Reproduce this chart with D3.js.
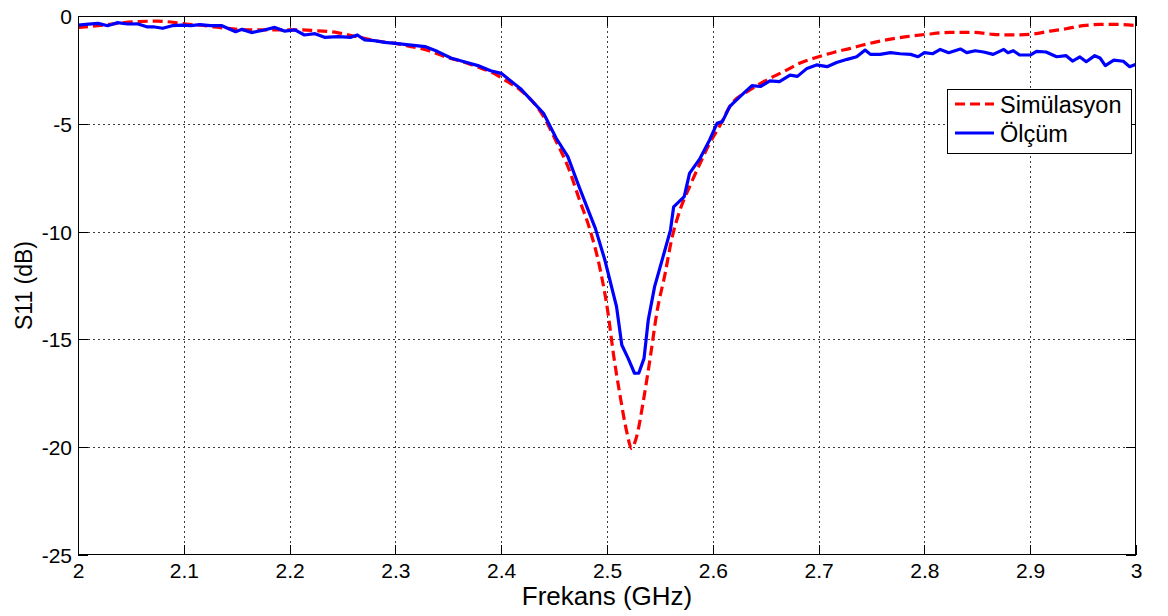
<!DOCTYPE html>
<html>
<head>
<meta charset="utf-8">
<script src="https://cdn.jsdelivr.net/npm/d3@7"></script>
<style>
  html, body { margin: 0; padding: 0; background: #fff; }
  svg { display: block; font-family: "Liberation Sans", Arial, sans-serif; }
</style>
</head>
<body>
<svg id="chart" width="1168" height="616"></svg>
<script>
// Simulated S11 (dB) vs frequency (GHz)
const simFreq = [2.000, 2.019, 2.037, 2.055, 2.075, 2.097, 2.102, 2.120, 2.140, 2.162, 2.187, 2.206, 2.225, 2.245, 2.266, 2.282, 2.300, 2.315, 2.331, 2.347, 2.362, 2.378, 2.394, 2.406, 2.418, 2.440, 2.452, 2.463, 2.474, 2.484, 2.493, 2.501, 2.506, 2.512, 2.519, 2.523, 2.528, 2.534, 2.541, 2.547, 2.555, 2.561, 2.569, 2.578, 2.588, 2.597, 2.607, 2.616, 2.635, 2.651, 2.667, 2.682, 2.700, 2.714, 2.730, 2.745, 2.764, 2.783, 2.802, 2.824, 2.846, 2.865, 2.884, 2.900, 2.919, 2.934, 2.950, 2.966, 2.982, 3.000];
const simS11 = [-0.53, -0.45, -0.34, -0.26, -0.24, -0.34, -0.37, -0.45, -0.57, -0.64, -0.64, -0.64, -0.68, -0.77, -0.99, -1.16, -1.27, -1.42, -1.60, -1.89, -2.10, -2.37, -2.68, -3.05, -3.43, -4.66, -5.82, -6.98, -8.53, -9.93, -11.63, -13.79, -15.65, -17.50, -19.36, -20.05, -19.51, -17.96, -15.80, -13.79, -11.93, -10.39, -9.00, -7.92, -6.83, -5.90, -5.06, -4.20, -3.43, -2.97, -2.58, -2.19, -1.89, -1.69, -1.50, -1.31, -1.11, -0.96, -0.85, -0.76, -0.76, -0.85, -0.88, -0.85, -0.70, -0.59, -0.45, -0.39, -0.39, -0.45];

// Measured S11 (dB) vs frequency (GHz)
const measFreq = [2.000, 2.010, 2.019, 2.028, 2.037, 2.047, 2.056, 2.065, 2.071, 2.080, 2.089, 2.098, 2.107, 2.115, 2.125, 2.136, 2.149, 2.155, 2.164, 2.175, 2.186, 2.195, 2.205, 2.214, 2.224, 2.233, 2.246, 2.258, 2.264, 2.271, 2.280, 2.290, 2.300, 2.315, 2.328, 2.340, 2.353, 2.365, 2.378, 2.390, 2.400, 2.418, 2.440, 2.452, 2.463, 2.473, 2.481, 2.489, 2.498, 2.509, 2.514, 2.520, 2.526, 2.530, 2.535, 2.539, 2.545, 2.553, 2.560, 2.563, 2.573, 2.578, 2.588, 2.597, 2.604, 2.609, 2.616, 2.619, 2.629, 2.637, 2.645, 2.654, 2.663, 2.673, 2.680, 2.689, 2.698, 2.708, 2.717, 2.727, 2.736, 2.744, 2.749, 2.758, 2.768, 2.777, 2.787, 2.794, 2.800, 2.808, 2.815, 2.823, 2.834, 2.840, 2.848, 2.856, 2.865, 2.875, 2.879, 2.884, 2.890, 2.900, 2.906, 2.915, 2.925, 2.934, 2.940, 2.947, 2.953, 2.961, 2.966, 2.971, 2.979, 2.988, 2.994, 3.000];
const measS11 = [-0.42, -0.38, -0.34, -0.45, -0.31, -0.37, -0.36, -0.50, -0.50, -0.57, -0.45, -0.42, -0.45, -0.40, -0.45, -0.45, -0.73, -0.62, -0.77, -0.66, -0.53, -0.70, -0.64, -0.88, -0.82, -0.99, -0.96, -0.99, -0.88, -1.11, -1.14, -1.22, -1.27, -1.35, -1.42, -1.65, -1.96, -2.12, -2.30, -2.54, -2.66, -3.36, -4.51, -5.67, -6.52, -7.84, -8.85, -9.85, -11.32, -13.48, -15.26, -15.88, -16.57, -16.57, -15.88, -14.10, -12.55, -11.16, -9.93, -8.85, -8.38, -7.30, -6.60, -5.75, -4.98, -4.90, -4.20, -4.05, -3.59, -3.23, -3.27, -3.01, -3.04, -2.74, -2.80, -2.43, -2.27, -2.35, -2.16, -2.01, -1.89, -1.58, -1.78, -1.78, -1.70, -1.75, -1.78, -1.89, -1.70, -1.75, -1.55, -1.70, -1.53, -1.70, -1.61, -1.67, -1.78, -1.55, -1.70, -1.61, -1.81, -1.81, -1.64, -1.67, -1.89, -1.84, -2.09, -1.90, -2.12, -1.84, -1.95, -2.30, -2.05, -2.10, -2.35, -2.24];

const xTicks = [2, 2.1, 2.2, 2.3, 2.4, 2.5, 2.6, 2.7, 2.8, 2.9, 3];
const yTicks = [0, -5, -10, -15, -20, -25];
const seriesNames = ["Simülasyon", "Ölçüm"];
const seriesColors = ["#ff0000", "#0000ff"];
const xTitle = "Frekans (GHz)";
const yTitle = "S11 (dB)";

const svg = d3.select("#chart");
const plot = { left: 78, right: 1136, top: 16, bottom: 555 };

const x = d3.scaleLinear().domain([2, 3]).range([plot.left, plot.right]);
const y = d3.scaleLinear().domain([-25, 0]).range([plot.bottom, plot.top]);

// dotted grid
const grid = svg.append("g").attr("stroke", "#3c3c3c").attr("stroke-width", 1)
  .attr("stroke-dasharray", "2,3").attr("shape-rendering", "crispEdges");
xTicks.slice(1, -1).forEach(t => {
  grid.append("line").attr("x1", Math.round(x(t)) + 0.5).attr("x2", Math.round(x(t)) + 0.5)
    .attr("y1", plot.top).attr("y2", plot.bottom);
});
yTicks.slice(1, -1).forEach(t => {
  grid.append("line").attr("y1", Math.round(y(t)) + 0.5).attr("y2", Math.round(y(t)) + 0.5)
    .attr("x1", plot.left).attr("x2", plot.right);
});

// axes with inward ticks on all four sides
const tickLen = 10;
const fmt = d => String(d);
const axB = svg.append("g").attr("transform", `translate(0,${plot.bottom})`)
  .call(d3.axisBottom(x).tickValues(xTicks).tickFormat(fmt).tickSizeInner(-tickLen).tickSizeOuter(0).tickPadding(8));
const axT = svg.append("g").attr("transform", `translate(0,${plot.top})`)
  .call(d3.axisTop(x).tickValues(xTicks).tickFormat("").tickSizeInner(-tickLen).tickSizeOuter(0));
const axL = svg.append("g").attr("transform", `translate(${plot.left},0)`)
  .call(d3.axisLeft(y).tickValues(yTicks).tickFormat(fmt).tickSizeInner(-tickLen).tickSizeOuter(0).tickPadding(6));
const axR = svg.append("g").attr("transform", `translate(${plot.right},0)`)
  .call(d3.axisRight(y).tickValues(yTicks).tickFormat("").tickSizeInner(-tickLen).tickSizeOuter(0));

[axB, axT, axL, axR].forEach(a => {
  a.select(".domain").remove();
  a.selectAll("line").attr("stroke", "#000").attr("shape-rendering", "crispEdges");
  a.selectAll("text").attr("fill", "#000").style("font-size", "21px")
    .style("font-family", "'Liberation Sans', Arial, sans-serif");
});
axL.selectAll("text").attr("dy", "0.36em");

// data lines
const simLine = d3.line().x((d, i) => x(simFreq[i])).y(d => y(d)).curve(d3.curveMonotoneX);
const measLine = d3.line().x((d, i) => x(measFreq[i])).y(d => y(d));

svg.append("clipPath").attr("id", "plotclip").append("rect")
  .attr("x", plot.left).attr("y", plot.top - 2).attr("width", plot.right - plot.left).attr("height", plot.bottom - plot.top + 4);

const lines = svg.append("g").attr("clip-path", "url(#plotclip)");
lines.append("path").datum(simS11).attr("d", simLine)
  .attr("fill", "none").attr("stroke", seriesColors[0]).attr("stroke-width", 3.2)
  .attr("stroke-dasharray", "10,5").attr("stroke-linejoin", "round");
lines.append("path").datum(measS11).attr("d", measLine)
  .attr("fill", "none").attr("stroke", seriesColors[1]).attr("stroke-width", 3.2)
  .attr("stroke-linejoin", "round");

// plot frame
svg.append("rect").attr("x", plot.left + 0.5).attr("y", plot.top + 0.5)
  .attr("width", plot.right - plot.left - 1).attr("height", plot.bottom - plot.top - 1)
  .attr("fill", "none").attr("stroke", "#000").attr("stroke-width", 1).attr("shape-rendering", "crispEdges");

// axis titles
svg.append("text").attr("x", (plot.left + plot.right) / 2).attr("y", 605)
  .attr("text-anchor", "middle").style("font-size", "26px").attr("fill", "#000")
  .text(xTitle);
svg.append("text").attr("transform", `translate(32,${(plot.top + plot.bottom) / 2}) rotate(-90)`)
  .attr("text-anchor", "middle").style("font-size", "23px").attr("fill", "#000")
  .text(yTitle);

// legend
const lg = svg.append("g").attr("transform", "translate(947,89)");
lg.append("rect").attr("x", 0.5).attr("y", 0.5).attr("width", 184).attr("height", 64)
  .attr("fill", "#fff").attr("stroke", "#000").attr("stroke-width", 1).attr("shape-rendering", "crispEdges");
seriesNames.forEach((name, i) => {
  const cy = 15 + i * 29;
  lg.append("line").attr("x1", 8).attr("x2", 47).attr("y1", cy).attr("y2", cy)
    .attr("stroke", seriesColors[i]).attr("stroke-width", 3.2)
    .attr("stroke-dasharray", i === 0 ? "10,5" : null);
  lg.append("text").attr("x", 53).attr("y", cy + 9).style("font-size", "23.5px").attr("fill", "#000").text(name);
});
</script>
</body>
</html>
